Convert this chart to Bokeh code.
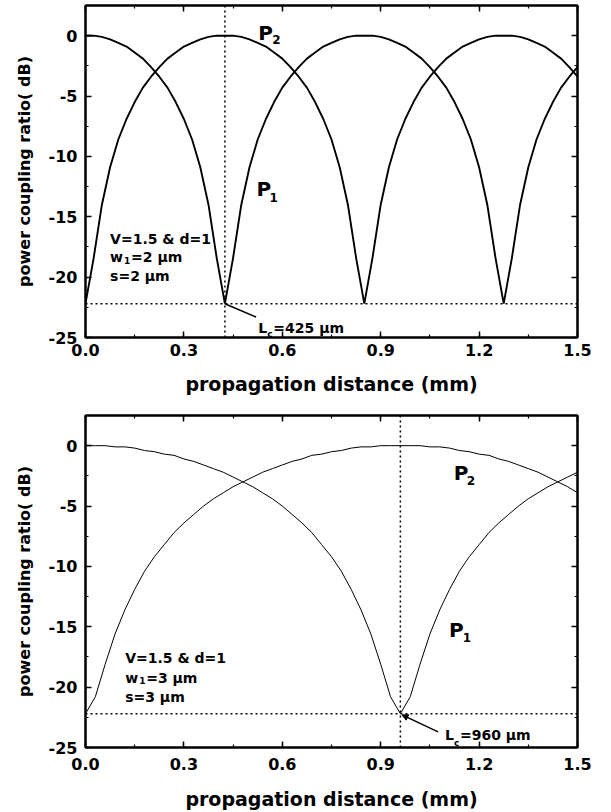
from bokeh.plotting import figure
from bokeh.models import (LinearAxis, SingleIntervalTicker, PrintfTickFormatter, Span, Label,
                          Arrow, NormalHead, CustomJSTickFormatter, ColumnDataSource)
from bokeh.layouts import column
from bokeh.embed import file_html
from bokeh.resources import INLINE

# ---------------- data ----------------
x_top = [0.0, 0.025, 0.05, 0.075, 0.1, 0.125, 0.15, 0.175, 0.2, 0.225, 0.25, 0.275, 0.3, 0.325,
         0.35, 0.375, 0.4, 0.425, 0.45, 0.475, 0.5, 0.525, 0.55, 0.575, 0.6, 0.625, 0.65, 0.675,
         0.7, 0.725, 0.75, 0.775, 0.8, 0.825, 0.85, 0.875, 0.9, 0.925, 0.95, 0.975, 1.0, 1.025,
         1.05, 1.075, 1.1, 1.125, 1.15, 1.175, 1.2, 1.225, 1.25, 1.275, 1.3, 1.325, 1.35, 1.375,
         1.4, 1.425, 1.45, 1.475, 1.5]
p1_top = [0.0, 0.0, -0.1, -0.3, -0.6, -0.9, -1.4, -1.9, -2.6, -3.4, -4.3, -5.5, -6.9, -8.6,
          -10.9, -14.0, -18.4, -22.2, -18.4, -14.0, -10.9, -8.6, -6.9, -5.5, -4.3, -3.4, -2.6,
          -1.9, -1.4, -0.9, -0.6, -0.3, -0.1, 0.0, 0.0, 0.0, -0.1, -0.3, -0.6, -0.9, -1.4, -1.9,
          -2.6, -3.4, -4.3, -5.5, -6.9, -8.6, -10.9, -14.0, -18.4, -22.2, -18.4, -14.0, -10.9,
          -8.6, -6.9, -5.5, -4.3, -3.4, -2.6]
p2_top = [-22.2, -18.4, -14.0, -10.9, -8.6, -6.9, -5.5, -4.3, -3.4, -2.6, -1.9, -1.4, -0.9,
          -0.6, -0.3, -0.1, 0.0, 0.0, 0.0, -0.1, -0.3, -0.6, -0.9, -1.4, -1.9, -2.6, -3.4, -4.3,
          -5.5, -6.9, -8.6, -10.9, -14.0, -18.4, -22.2, -18.4, -14.0, -10.9, -8.6, -6.9, -5.5,
          -4.3, -3.4, -2.6, -1.9, -1.4, -0.9, -0.6, -0.3, -0.1, 0.0, 0.0, 0.0, -0.1, -0.3, -0.6,
          -0.9, -1.4, -1.9, -2.6, -3.4]

x_bot = [0.0, 0.03, 0.06, 0.09, 0.12, 0.15, 0.18, 0.21, 0.24, 0.27, 0.3, 0.33, 0.36, 0.39, 0.42,
         0.45, 0.48, 0.51, 0.54, 0.57, 0.6, 0.63, 0.66, 0.69, 0.72, 0.75, 0.78, 0.81, 0.84, 0.87,
         0.9, 0.93, 0.96, 0.99, 1.02, 1.05, 1.08, 1.11, 1.14, 1.17, 1.2, 1.23, 1.26, 1.29, 1.32,
         1.35, 1.38, 1.41, 1.44, 1.47, 1.5]
p1_bot = [0.0, 0.0, 0.0, -0.1, -0.1, -0.2, -0.4, -0.5, -0.7, -0.8, -1.1, -1.3, -1.6, -1.9, -2.2,
          -2.6, -3.0, -3.4, -3.9, -4.4, -5.0, -5.7, -6.4, -7.2, -8.2, -9.2, -10.4, -11.9, -13.6,
          -15.6, -18.1, -20.8, -22.2, -20.8, -18.1, -15.6, -13.6, -11.9, -10.4, -9.2, -8.2, -7.2,
          -6.4, -5.7, -5.0, -4.4, -3.9, -3.4, -3.0, -2.6, -2.2]
p2_bot = [-22.2, -20.8, -18.1, -15.6, -13.6, -11.9, -10.4, -9.2, -8.2, -7.2, -6.4, -5.7, -5.0,
          -4.4, -3.9, -3.4, -3.0, -2.6, -2.2, -1.9, -1.6, -1.3, -1.1, -0.8, -0.7, -0.5, -0.4,
          -0.2, -0.1, -0.1, 0.0, 0.0, 0.0, 0.0, 0.0, -0.1, -0.1, -0.2, -0.4, -0.5, -0.7, -0.8,
          -1.1, -1.3, -1.6, -1.9, -2.2, -2.6, -3.0, -3.4, -3.9]

lc_top = 0.425      # coupling length, mm
lc_bot = 0.96
floor_top = -22.2   # minimum level, dB
floor_bot = -22.2

x_label = "propagation distance (mm)"
y_label = "power coupling ratio( dB)"
top_line1 = "V=1.5 & d=1"
top_w_text = "=2 \u03bcm"
top_s_text = "s=2 \u03bcm"
bot_line1 = "V=1.5 & d=1"
bot_w_text = "=3 \u03bcm"
bot_s_text = "s=3 \u03bcm"
top_lc_text = "=425 \u03bcm"
bot_lc_text = "=960 \u03bcm"

FONT = "DejaVu Sans"


def make_panel(width, height, left, right, top, bottom, ymax, xs, p1, p2, lw,
               lab_standoff, title_standoff):
    p = figure(width=width, height=height, x_range=(0, 1.5), y_range=(-25, ymax),
               output_backend="svg", toolbar_location=None,
               min_border_left=left, min_border_right=right,
               min_border_top=top, min_border_bottom=bottom,
               x_axis_label=x_label, y_axis_label=y_label)
    p.xgrid.visible = False
    p.ygrid.visible = False
    p.outline_line_color = "black"
    p.outline_line_width = 2
    p.background_fill_color = "white"
    p.border_fill_color = "white"

    xt = SingleIntervalTicker(interval=0.3, num_minor_ticks=2)
    yt = SingleIntervalTicker(interval=5, num_minor_ticks=2)
    p.xaxis.ticker = xt
    p.yaxis.ticker = yt
    p.xaxis.formatter = PrintfTickFormatter(format="%.1f")
    p.yaxis.formatter = PrintfTickFormatter(format="%d")
    for ax in (p.xaxis[0], p.yaxis[0]):
        ax.axis_line_width = 2
        ax.axis_line_color = "black"
        ax.major_tick_in = 6
        ax.major_tick_out = 0
        ax.minor_tick_in = 3
        ax.minor_tick_out = 0
        ax.major_tick_line_width = 1.5
        ax.minor_tick_line_width = 1.2
        ax.major_label_text_font = FONT
        ax.major_label_text_font_style = "bold"
        ax.major_label_text_font_size = "16px"
        ax.major_label_text_color = "black"
        ax.axis_label_text_font = FONT
        ax.axis_label_text_font_style = "bold"
        ax.axis_label_text_color = "black"
    p.xaxis.major_label_standoff = lab_standoff
    p.yaxis.major_label_standoff = 8
    p.xaxis.axis_label_text_font_size = "19px"
    p.yaxis.axis_label_text_font_size = "16px"
    p.xaxis.axis_label_standoff = title_standoff
    p.yaxis.axis_label_standoff = 12

    for loc, tk in (("above", xt), ("right", yt)):
        ax = LinearAxis(ticker=tk, formatter=CustomJSTickFormatter(code="return ''"),
                        major_tick_in=6, major_tick_out=0, minor_tick_in=3, minor_tick_out=0,
                        major_tick_line_width=1.5, minor_tick_line_width=1.2,
                        axis_line_width=2, major_label_text_font_size="0px",
                        major_label_standoff=0)
        p.add_layout(ax, loc)

    src = ColumnDataSource(dict(x=xs, p1=p1, p2=p2))
    p.line("x", "p1", source=src, line_color="black", line_width=lw)
    p.line("x", "p2", source=src, line_color="black", line_width=lw)
    return p


def add_label(p, x, y, text, size, x_offset=0, y_offset=0):
    p.add_layout(Label(x=x, y=y, text=text, text_font=FONT, text_font_style="bold",
                       text_font_size=size, text_color="black", text_baseline="alphabetic",
                       x_offset=x_offset, y_offset=y_offset))


def add_params(p, x, y, line1, w_text, s_text, gap):
    add_label(p, x, y, line1, "14px")
    add_label(p, x, y, "w", "14px", y_offset=-gap)
    add_label(p, x, y, "1", "9px", x_offset=14, y_offset=-gap - 3)
    add_label(p, x, y, w_text, "14px", x_offset=21, y_offset=-gap)
    add_label(p, x, y, s_text, "14px", y_offset=-2 * gap)


# ---------------- top panel ----------------
pt = make_panel(600, 400, 85, 17, 5, 63, 2.5, x_top, p1_top, p2_top, 1.9, 6, 14)
pt.add_layout(Span(location=floor_top, dimension="width", line_color="black",
                   line_dash="2 3", line_width=1.5))
pt.add_layout(Span(location=lc_top, dimension="height", line_color="black",
                   line_dash="2 3", line_width=1.5))
add_label(pt, 0.527, 0.25, "P", "20px")
add_label(pt, 0.569, -0.33, "2", "12px")
add_label(pt, 0.521, -12.67, "P", "20px")
add_label(pt, 0.561, -13.4, "1", "12px")
add_params(pt, 0.075, -16.8, top_line1, top_w_text, top_s_text, 18.5)
pt.add_layout(Arrow(x_start=0.52, y_start=-23.3, x_end=lc_top, y_end=floor_top,
                    line_width=1.5, line_color="black", end=None))
add_label(pt, 0.527, -24.2, "L", "14px")
add_label(pt, 0.527, -24.7, "c", "9px", x_offset=9)
add_label(pt, 0.527, -24.2, top_lc_text, "14px", x_offset=15)

# ---------------- bottom panel ----------------
pb = make_panel(600, 412, 80, 23, 15, 65, 2.5, x_bot, p1_bot, p2_bot, 1.0, 10, 15)
pb.add_layout(Span(location=floor_bot, dimension="width", line_color="black",
                   line_dash="2 3", line_width=1.5))
pb.add_layout(Span(location=lc_bot, dimension="height", line_color="black",
                   line_dash="2 3", line_width=1.5))
add_label(pb, 1.123, -2.24, "P", "20px")
add_label(pb, 1.162, -2.9, "2", "12px")
add_label(pb, 1.108, -15.3, "P", "20px")
add_label(pb, 1.15, -15.9, "1", "12px")
add_params(pb, 0.121, -17.6, bot_line1, bot_w_text, bot_s_text, 19.5)
pb.add_layout(Arrow(x_start=1.075, y_start=-23.7, x_end=lc_bot + 0.005, y_end=floor_bot - 0.1,
                    line_width=1.5, line_color="black",
                    end=NormalHead(size=6, fill_color="black", line_color="black")))
add_label(pb, 1.096, -24.0, "L", "14px")
add_label(pb, 1.096, -24.6, "c", "9px", x_offset=9)
add_label(pb, 1.096, -24.0, bot_lc_text, "14px", x_offset=15)

layout = column(pt, pb, spacing=0)
open("out.html", "w").write(file_html(layout, INLINE))
